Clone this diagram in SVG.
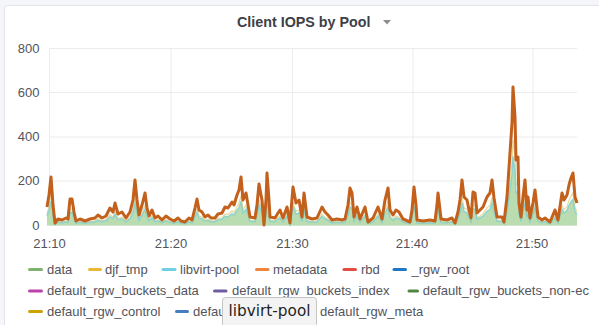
<svg xmlns="http://www.w3.org/2000/svg" xmlns:xlink="http://www.w3.org/1999/xlink" width="599" height="325" viewBox="0 0 599 325">
<style>
.ax{font-family:"Liberation Sans",Arial,sans-serif;font-size:13px;fill:#52545c}
.lg{font-family:"Liberation Sans",Arial,sans-serif;font-size:13px;fill:#52545c}
.grid{stroke:#ececec;stroke-width:1;fill:none}
.sw{stroke-width:3;stroke-linecap:round;fill:none}
</style>
<defs>
<polyline id="ln" vector-effect="non-scaling-stroke" points="47,207 49,195 51,177 53,205 55,223 58,219 62,220 66,218 68,219 70,199 72,199 74,212 76,221 80,219 85,221 90,219 95,218 98,215 102,218 106,216 110,208 113,212 115,203 118,214 122,212 126,218 130,212 133,200 135,180 137,200 139,215 142,205 145,193 147,208 149,216 152,210 155,218 158,216 162,220 166,216 170,219 174,221 178,218 181,221 185,222 189,218 192,220 195,208 197,199 199,210 202,212 205,217 208,215 211,218 215,218 218,214 222,213 225,207 228,208 232,202 234,205 237,195 239,190 241,177 243,200 246,193 248,205 250,217 255,218 257,205 259,184 261,195 262,200 264,225 266,200 267,173 269,200 270,217 275,218 278,213 280,210 283,218 287,207 290,223 293,187 296,203 299,200 302,217 304,193 307,217 312,219 317,218 322,207 325,212 328,215 332,220 337,219 342,220 345,219 348,205 350,188 352,193 354,217 357,207 360,219 365,207 368,222 373,218 378,207 382,219 385,200 388,188 390,210 393,215 396,210 399,212 403,219 410,222 412,210 414,187 416,205 417,220 423,221 430,220 435,221 437,205 438,193 440,210 441,219 447,220 452,218 455,223 458,212 460,200 462,180 464,197 467,200 469,210 471,218 473,192 475,193 477,213 480,210 483,207 487,197 490,193 492,180 494,198 497,217 502,217 504,222 507,197 510,153 512,123 513,87 515,117 516,160 518,157 519,203 521,217 523,197 525,180 527,210 528,197 530,218 533,203 535,190 538,217 542,220 545,218 550,222 555,210 558,220 562,193 564,200 567,195 569,185 571,178 573,173 575,197 577,203"/>
<polygon id="ar" points="47,225.5 47,207 49,195 51,177 53,205 55,223 58,219 62,220 66,218 68,219 70,199 72,199 74,212 76,221 80,219 85,221 90,219 95,218 98,215 102,218 106,216 110,208 113,212 115,203 118,214 122,212 126,218 130,212 133,200 135,180 137,200 139,215 142,205 145,193 147,208 149,216 152,210 155,218 158,216 162,220 166,216 170,219 174,221 178,218 181,221 185,222 189,218 192,220 195,208 197,199 199,210 202,212 205,217 208,215 211,218 215,218 218,214 222,213 225,207 228,208 232,202 234,205 237,195 239,190 241,177 243,200 246,193 248,205 250,217 255,218 257,205 259,184 261,195 262,200 264,225 266,200 267,173 269,200 270,217 275,218 278,213 280,210 283,218 287,207 290,223 293,187 296,203 299,200 302,217 304,193 307,217 312,219 317,218 322,207 325,212 328,215 332,220 337,219 342,220 345,219 348,205 350,188 352,193 354,217 357,207 360,219 365,207 368,222 373,218 378,207 382,219 385,200 388,188 390,210 393,215 396,210 399,212 403,219 410,222 412,210 414,187 416,205 417,220 423,221 430,220 435,221 437,205 438,193 440,210 441,219 447,220 452,218 455,223 458,212 460,200 462,180 464,197 467,200 469,210 471,218 473,192 475,193 477,213 480,210 483,207 487,197 490,193 492,180 494,198 497,217 502,217 504,222 507,197 510,153 512,123 513,87 515,117 516,160 518,157 519,203 521,217 523,197 525,180 527,210 528,197 530,218 533,203 535,190 538,217 542,220 545,218 550,222 555,210 558,220 562,193 564,200 567,195 569,185 571,178 573,173 575,197 577,203 577,225.5"/>
</defs>
<rect x="0" y="0" width="599" height="325" fill="#f5f6f9"/>
<rect id="panel" x="4.5" y="5.5" width="600" height="330" rx="3" fill="#ffffff" stroke="#e3e4e8"/>
<g id="title">
<text x="237" y="27" font-family="Liberation Sans, Arial, sans-serif" font-size="14.3" font-weight="bold" fill="#3d4046">Client IOPS by Pool</text>
<polygon points="383,20 391,20 387,24.5" fill="#8a8c90"/>
</g>
<g id="grid">
<path class="grid" d="M49 48.5H577M49 92.5H577M49 137H577M49 181H577M49 225.5H577"/>
<path class="grid" d="M49.5 48V226M171 48V226M292.5 48V226M413 48V226M533 48V226"/>
</g>
<g id="yaxis" class="ax" text-anchor="end">
<text x="39.5" y="52.7">800</text>
<text x="39.5" y="96.7">600</text>
<text x="39.5" y="141.2">400</text>
<text x="39.5" y="185.4">200</text>
<text x="39.5" y="229.8">0</text>
</g>
<g id="xaxis" class="ax" text-anchor="middle">
<text x="49.5" y="247.5">21:10</text>
<text x="171" y="247.5">21:20</text>
<text x="292.5" y="247.5">21:30</text>
<text x="412" y="247.5">21:40</text>
<text x="532" y="247.5">21:50</text>
</g>
<g id="series">
<use xlink:href="#ar" href="#ar" fill="#b9dcb0" transform="translate(0,225.5) scale(1,0.5) translate(0,-225.5)"/>
<use xlink:href="#ln" href="#ln" fill="none" stroke="#d8b94a" stroke-width="1.2" opacity="0.55" transform="translate(0,225.5) scale(1,0.62) translate(0,-225.5)"/>
<use xlink:href="#ln" href="#ln" fill="none" stroke="#7fcfcf" stroke-width="1.5" opacity="0.8" transform="translate(0,225.5) scale(1,0.5) translate(0,-225.5)"/>
<use xlink:href="#ln" href="#ln" fill="none" stroke="#c2601c" stroke-width="3" stroke-linejoin="round"/>
</g>
<g id="legend">
<g id="lg-data"><line class="sw" x1="29.5" y1="269.5" x2="41.5" y2="269.5" stroke="#7eb26d"/><text class="lg" x="47" y="273.8">data</text></g>
<g id="lg-djf"><line class="sw" x1="89.5" y1="269.5" x2="100.5" y2="269.5" stroke="#eab839"/><text class="lg" x="105" y="273.8">djf_tmp</text></g>
<g id="lg-libvirt"><line class="sw" x1="163" y1="269.5" x2="175" y2="269.5" stroke="#6ed0e0"/><text class="lg" x="180" y="273.8">libvirt-pool</text></g>
<g id="lg-metadata"><line class="sw" x1="256.5" y1="269.5" x2="268" y2="269.5" stroke="#ef843c"/><text class="lg" x="273" y="273.8">metadata</text></g>
<g id="lg-rbd"><line class="sw" x1="344" y1="269.5" x2="355.5" y2="269.5" stroke="#e24d42"/><text class="lg" x="361" y="273.8">rbd</text></g>
<g id="lg-root"><line class="sw" x1="394" y1="269.5" x2="405.5" y2="269.5" stroke="#1f78c1"/><text class="lg" x="411.5" y="273.8">_rgw_root</text></g>
<g id="lg-bdata"><line class="sw" x1="29.5" y1="291" x2="41.5" y2="291" stroke="#ba43a9"/><text class="lg" x="47" y="295.2">default_rgw_buckets_data</text></g>
<g id="lg-bindex"><line class="sw" x1="214.5" y1="291" x2="226" y2="291" stroke="#705da0"/><text class="lg" x="232" y="295.2">default_rgw_buckets_index</text></g>
<g id="lg-bnonec"><line class="sw" x1="409" y1="291" x2="417.5" y2="291" stroke="#508642"/><text class="lg" x="422.7" y="295.2">default_rgw_buckets_non-ec</text></g>
<g id="lg-control"><line class="sw" x1="29.5" y1="311.5" x2="41.5" y2="311.5" stroke="#cca300"/><text class="lg" x="47" y="315.8">default_rgw_control</text></g>
<g id="lg-blue"><line class="sw" x1="176.5" y1="311.5" x2="187.5" y2="311.5" stroke="#447ebc"/><text class="lg" x="193" y="315.8">defau</text></g>
<g id="lg-meta"><text class="lg" x="320" y="315.8">default_rgw_meta</text></g>
</g>
<g id="tooltip">
<rect x="222.5" y="297.5" width="94" height="30" rx="3" fill="#f3f3f3" stroke="#c4c4c4"/>
<text x="228.5" y="316.3" font-family="DejaVu Sans, Verdana, sans-serif" font-size="15.3" fill="#1e1e1e">libvirt-pool</text>
</g>
</svg>
